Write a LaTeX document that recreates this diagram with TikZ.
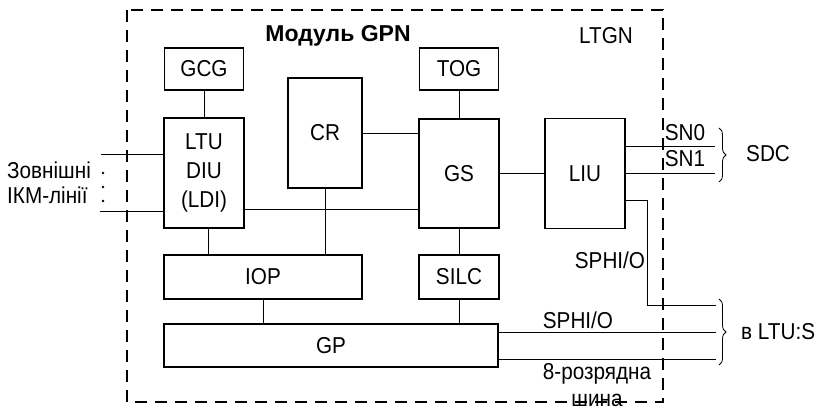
\documentclass[tikz,border=0pt]{standalone}
\usepackage{fontspec}
\setmainfont{Liberation Sans}[FakeStretch=0.9]
\newfontfamily\titlefont{Liberation Sans}
\usepackage{tikz}
\usetikzlibrary{calc,decorations.pathreplacing}

\begin{document}
\begin{tikzpicture}[x=1pt, y=-1pt,
    blk/.style={draw, line width=1.3pt, inner sep=0pt, align=center, font=\fontsize{23}{29}\selectfont},
    lbl/.style={inner sep=0pt, font=\fontsize{23}{26}\selectfont},
    link/.style={line width=0.8pt},
    frm/.style={line width=1.6pt, dash pattern=on 12pt off 8pt},
    brc/.style={decorate, decoration={brace, amplitude=7pt}, line width=0.8pt}
  ]
  \useasboundingbox (0,0) rectangle (826,411);

  % module frame
  \draw[frm] (127,10) rectangle (663,402);
  \node[lbl, font=\titlefont\fontsize{23}{26}\selectfont\bfseries] (title) at (338,36) {Модуль GPN};
  \node[lbl] (ltgn) at (606,36) {LTGN};

  % blocks
  \node[blk, minimum width=79pt, minimum height=42pt] (gcg) at (204,69) {GCG};
  \node[blk, minimum width=79pt, minimum height=42pt] (tog) at (459,69) {TOG};
  \node[blk, minimum width=74pt, minimum height=110pt] (cr) at (325,133) {CR};
  \node[blk, minimum width=80pt, minimum height=110pt] (ltu) at (204,173) {LTU\\DIU\\(LDI)};
  \node[blk, minimum width=80pt, minimum height=109pt] (gs) at (459,173.5) {GS};
  \node[blk, minimum width=80pt, minimum height=110pt] (liu) at (585,173.5) {LIU};
  \node[blk, minimum width=198pt, minimum height=44pt] (iop) at (263,277) {IOP};
  \node[blk, minimum width=80pt, minimum height=44pt] (silc) at (459,277) {SILC};
  \node[blk, minimum width=334pt, minimum height=43pt] (gp) at (331,345.5) {GP};

  % links inside the module
  \draw[link] (gcg) -- (ltu);
  \draw[link] (tog) -- (gs);
  \draw[link] (cr.east) -- (cr.east -| gs.west);
  \draw[link] ([yshift=-36pt]ltu.east) -- ([yshift=-36pt]ltu.east -| gs.west);
  \draw[link] (gs) -- (liu);
  \draw[link] ([xshift=4pt]ltu.south) -- ([xshift=4pt]ltu.south |- iop.north);
  \draw[link] (cr.south) -- (cr.south |- iop.north);
  \draw[link] (gs) -- (silc);
  \draw[link] (iop.south) -- (iop.south |- gp.north);
  \draw[link] (silc.south) -- (silc.south |- gp.north);

  % external lines
  \coordinate (in0) at (101,154);
  \coordinate (in1) at (100,211);
  \draw[link] (in0) -- (in0 -| ltu.west);
  \draw[link] (in1) -- (in1 -| ltu.west);
  \foreach \yy in {173,187,201}
    \fill (103,\yy) circle (1.4);
  \node[lbl, anchor=west] (ext0) at (7,170) {Зовнішні};
  \node[lbl, anchor=west] (ext1) at (7,195) {ІКМ-лінії};

  \coordinate (sdc0) at (715,146.5);
  \coordinate (sdc1) at (715,173.5);
  \draw[link] ([yshift=27pt]liu.east) -- (sdc0);
  \draw[link] (liu.east) -- (sdc1);
  \node[lbl] (sn0) at (685,133) {SN0};
  \node[lbl] (sn1) at (685,159) {SN1};
  \draw[brc] (719,128) -- (719,182);
  \node[lbl, anchor=west] (sdc) at (746,154) {SDC};

  \coordinate (sph) at (716,305);
  \coordinate (gp0) at (716,332);
  \coordinate (gp1) at (716,359);
  \draw[link] ([yshift=-27pt]liu.east) -- ++(22,0) |- (sph);
  \draw[link] (gp.east |- gp0) -- (gp0);
  \draw[link] (gp.east |- gp1) -- (gp1);
  \node[lbl] (sph1) at (610,260) {SPHI/O};
  \node[lbl] (sph2) at (578,320) {SPHI/O};
  \node[lbl] (bus0) at (597,374) {8-розрядна};
  \node[lbl] (bus1) at (597,400) {шина};
  \draw[brc] (719,299) -- (719,365);
  \node[lbl, anchor=west] (ltus) at (741,332) {в LTU:S};
\end{tikzpicture}
\end{document}
